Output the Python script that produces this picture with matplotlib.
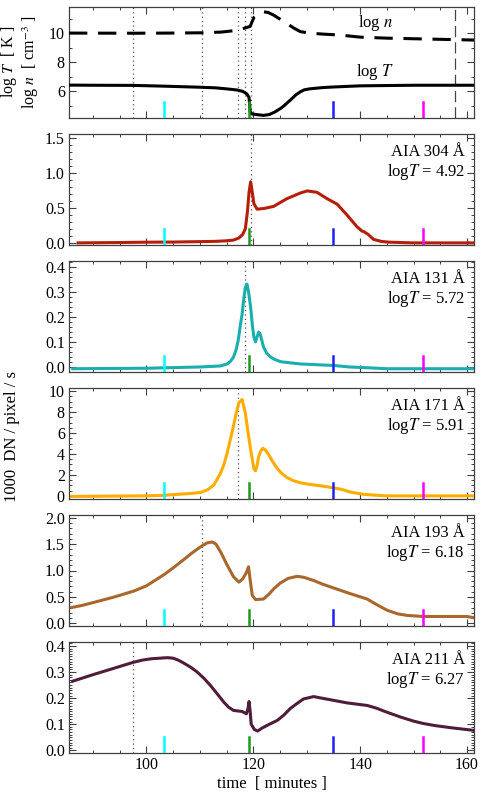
import numpy as np
import matplotlib
matplotlib.use('Agg')
import matplotlib.pyplot as plt
from matplotlib.ticker import MultipleLocator, AutoMinorLocator

plt.rcParams['font.family'] = ['Liberation Serif', 'DejaVu Serif']
plt.rcParams['mathtext.fontset'] = 'stix'
plt.rcParams['font.size'] = 11

# ---- data ----
# top panel: temperature and density
t_logT = [85.5, 90, 97.5, 103, 110.3, 113, 115, 117, 118, 118.8, 119.2, 119.4, 119.7,
          120.5, 121.9, 123, 124, 125.1, 125.7, 127, 128, 128.8, 129.5, 130.5, 133, 135,
          140, 150, 161.3]
logT = [6.41, 6.40, 6.39, 6.34, 6.26, 6.22, 6.15, 6.07, 5.98, 5.8, 5.55, 4.6, 4.42,
        4.38, 4.32, 4.38, 4.55, 4.8, 4.97, 5.4, 5.75, 5.95, 6.08, 6.15, 6.24, 6.28,
        6.36, 6.4, 6.4]

t_logn = [85.5, 97.5, 104, 110.3, 114, 116.5, 118, 119.4, 120.1, 121, 121.9, 122.8,
          123.8, 125.7, 127.6, 128.8, 130.5, 133, 136.3, 140, 145, 153.7, 161.3]
logn = [10.0, 9.99, 10.0, 10.02, 10.07, 10.17, 10.3, 10.46, 11.08, 11.3, 11.47, 11.42,
        11.24, 10.8, 10.34, 10.1, 10.0, 9.93, 9.86, 9.72, 9.65, 9.58, 9.52]

# AIA light curves
t_304 = [87.2, 95, 100, 105, 110, 113, 115, 116.3, 117.3, 118, 118.5, 118.9, 119.2,
         119.5, 119.8, 120.1, 120.7, 122, 123.8, 126.3, 128.8, 130.1, 131.9, 133.8,
         135.7, 137.5, 139.4, 140.3, 140.7, 141.5, 142.5, 144, 145.5, 150, 161.1]
aia304 = [0.0, 0.005, 0.01, 0.012, 0.018, 0.022, 0.03, 0.04, 0.07, 0.12, 0.2, 0.45,
          0.72, 0.87, 0.72, 0.56, 0.48, 0.49, 0.52, 0.63, 0.71, 0.74, 0.72, 0.63,
          0.55, 0.40, 0.23, 0.17, 0.16, 0.12, 0.05, 0.02, 0.01, 0.0, 0.0]

t_131 = [86.2, 100, 110, 113.8, 115.1, 115.7, 116.3, 116.8, 117.2, 117.6, 117.9, 118.2,
         118.5, 118.8, 119.1, 119.5, 119.8, 120.1, 120.4, 120.7, 121, 121.3, 121.9,
         122.5, 123.2, 124, 125.1, 128.8, 135, 138, 141.3, 145, 161.1]
aia131 = [-0.007, -0.005, 0.0, 0.004, 0.012, 0.022, 0.04, 0.07, 0.11, 0.17, 0.21, 0.27,
          0.316, 0.33, 0.3, 0.237, 0.17, 0.12, 0.10, 0.12, 0.139, 0.13, 0.08, 0.055,
          0.04, 0.03, 0.021, 0.012, 0.006, 0.0, -0.003, -0.007, -0.007]

t_171 = [86, 100, 103, 106, 108, 110.1, 111.5, 112.6, 113.8, 114.5, 115.1, 115.7, 116.3,
         116.8, 117.3, 117.9, 118.5, 119, 119.5, 120.1, 120.4, 120.7, 121, 121.4, 121.8,
         122.3, 122.9, 123.7, 124.5, 125.3, 126.3, 127.5, 128.8, 130.5, 132.6, 135,
         136.5, 138.2, 140.5, 143.2, 145, 161.1]
aia171 = [-0.05, 0.0, 0.05, 0.15, 0.22, 0.32, 0.6, 1.03, 2.1, 3.0, 4.1, 5.4, 6.7, 7.9,
          8.9, 9.2, 7.9, 6.1, 4.4, 2.6, 2.4, 2.9, 3.75, 4.3, 4.55, 4.35, 3.9, 3.2, 2.6,
          2.15, 1.75, 1.45, 1.25, 1.1, 0.96, 0.77, 0.62, 0.36, 0.15, 0.05, 0.0, 0.0]

t_193 = [86, 88, 91.4, 94, 97.6, 100, 103.4, 105, 106.9, 108.5, 110.3, 111.3, 112.3, 113,
         114, 115, 116.3, 117.3, 118, 118.7, 119.1, 119.5, 119.8, 120.4, 121.9, 122.8,
         123.8, 125, 126.5, 128.2, 129.5, 131.3, 133, 135, 138.2, 141.3, 143, 145, 147,
         148.8, 151.8, 160, 161.1]
aia193 = [0.30, 0.34, 0.43, 0.50, 0.61, 0.71, 0.93, 1.05, 1.2, 1.33, 1.46, 1.52, 1.54,
          1.5, 1.33, 1.12, 0.88, 0.78, 0.84, 0.96, 1.07, 0.75, 0.53, 0.45, 0.46, 0.54,
          0.65, 0.76, 0.85, 0.89, 0.87, 0.81, 0.74, 0.67, 0.56, 0.46, 0.36, 0.25, 0.18,
          0.15, 0.13, 0.13, 0.11]

t_211 = [86.2, 90, 94, 97.5, 99.3, 101, 103.9, 105, 106, 107, 108.3, 109.5, 110.8, 112,
         113.3, 114.5, 115.4, 116.3, 117.9, 118.7, 119.0, 119.2, 119.4, 119.6, 120.2,
         120.8, 121.6, 122.6, 124.5, 125.7, 126.9, 128.2, 129.4, 131.3, 132.8, 134.4,
         137.5, 141.3, 143, 144.5, 147.5, 150, 151.8, 154, 156.9, 161.1]
aia211 = [0.265, 0.29, 0.315, 0.337, 0.346, 0.351, 0.355, 0.353, 0.345, 0.334, 0.318,
          0.30, 0.275, 0.248, 0.215, 0.184, 0.165, 0.153, 0.149, 0.14, 0.16, 0.187,
          0.15, 0.10, 0.08, 0.074, 0.085, 0.096, 0.115, 0.135, 0.16, 0.18, 0.197,
          0.206, 0.2, 0.194, 0.182, 0.172, 0.162, 0.15, 0.128, 0.112, 0.103, 0.095,
          0.087, 0.077]

channels = ['304', '131', '171', '193', '211']
logT_peak = ['4.92', '5.72', '5.91', '6.18', '6.27']
peak_times = [119.5, 118.4, 117.1, 110.3, 97.5]
curve_colors = ['#b41e0a', '#1aaeae', '#ffac00', '#a8672c', '#4f1c3a']
ylims = [(-0.03, 1.55), (-0.02, 0.422), (-0.3, 10.3), (-0.05, 2.05), (-0.01, 0.415)]
major_steps = [0.5, 0.1, 2, 0.5, 0.1]
minor_divs = [5, 5, 4, 5, 10]
tick_fmt = ['%.1f', '%.1f', '%d', '%.1f', '%.1f']

mark_times = [103.2, 119.15, 135.0, 151.8]
mark_colors = ['#00ffff', '#1a9a1a', '#2020ff', '#ff00ff']
end_time = 157.8

series = [(t_304, aia304), (t_131, aia131), (t_171, aia171), (t_193, aia193), (t_211, aia211)]

fig = plt.figure(figsize=(4.8, 7.99), dpi=100)
W, H = 480.0, 799.0
left, width = 69 / W, 405 / W
axh = 111 / H
tops = [7, 134, 261, 388, 515, 642]
xlim = (85.5, 161.3)
frame = '#404040'


def style(ax):
    ax.set_xlim(xlim)
    ax.xaxis.set_major_locator(MultipleLocator(20))
    ax.xaxis.set_minor_locator(MultipleLocator(5))
    ax.tick_params(which='both', direction='in', top=True, right=True, color=frame,
                   labelsize=11.5, pad=3)
    ax.tick_params(which='major', length=5, width=0.8)
    ax.tick_params(which='minor', length=2.5, width=0.7)
    for s in ax.spines.values():
        s.set_color(frame)
        s.set_linewidth(0.9)


def markers(ax):
    tr = ax.get_xaxis_transform()
    for mt, mc in zip(mark_times, mark_colors):
        ax.plot([mt, mt], [0, 0.14], color=mc, lw=1.8, transform=tr, zorder=4)


# top panel
ax0 = fig.add_axes([left, 1 - (tops[0] + 111) / H, width, axh])
style(ax0)
for pt in peak_times:
    ax0.axvline(pt, color='#555555', ls=(0, (1, 2.5)), lw=0.9)
ax0.axvline(end_time, color='#444444', ls=(0, (9, 4)), lw=0.9)
ax0.plot(t_logn, logn, color='black', lw=2.2, ls=(0, (6, 3.5)), zorder=3)
ax0.plot(t_logT, logT, color='black', lw=2.2, zorder=3)
markers(ax0)
ax0.set_ylim(4.14, 11.8)
ax0.yaxis.set_major_locator(MultipleLocator(2))
ax0.yaxis.set_minor_locator(AutoMinorLocator(2))
ax0.set_xticklabels([])
ax0.text(142.8, 10.67, r'log $n$', ha='center', va='center', fontsize=12)
ax0.text(142.8, 7.33, r'log $T$', ha='center', va='center', fontsize=12)
fig.text(20 / W, 1 - 62 / H, 'log $T$  [ K ]\nlog $n$  [ cm$^{-3}$ ]', rotation=90,
         ha='center', va='center', fontsize=11.5, linespacing=1.05, multialignment='center')

for i in range(5):
    ax = fig.add_axes([left, 1 - (tops[i + 1] + 111) / H, width, axh])
    style(ax)
    ax.axvline(peak_times[i], color='#555555', ls=(0, (1, 2.5)), lw=0.9)
    tt, vv = series[i]
    ax.plot(tt, vv, color=curve_colors[i], lw=2.2, zorder=3)
    markers(ax)
    ax.set_ylim(ylims[i])
    ax.yaxis.set_major_locator(MultipleLocator(major_steps[i]))
    ax.yaxis.set_minor_locator(AutoMinorLocator(minor_divs[i]))
    ax.yaxis.set_major_formatter(plt.FormatStrFormatter(tick_fmt[i]))
    ax.text(0.978, 0.84, 'AIA ' + channels[i] + ' Å', transform=ax.transAxes,
            ha='right', va='center', fontsize=12)
    ax.text(0.978, 0.66, r'log$T$ = ' + logT_peak[i], transform=ax.transAxes,
            ha='right', va='center', fontsize=12)
    if i < 4:
        ax.set_xticklabels([])
    else:
        ax.set_xlabel('time  [ minutes ]', fontsize=12, labelpad=2)

fig.text(12 / W, 1 - 437 / H, '1000  DN / pixel / s', rotation=90, ha='center',
         va='center', fontsize=12)

fig.savefig('out.png', dpi=100)
